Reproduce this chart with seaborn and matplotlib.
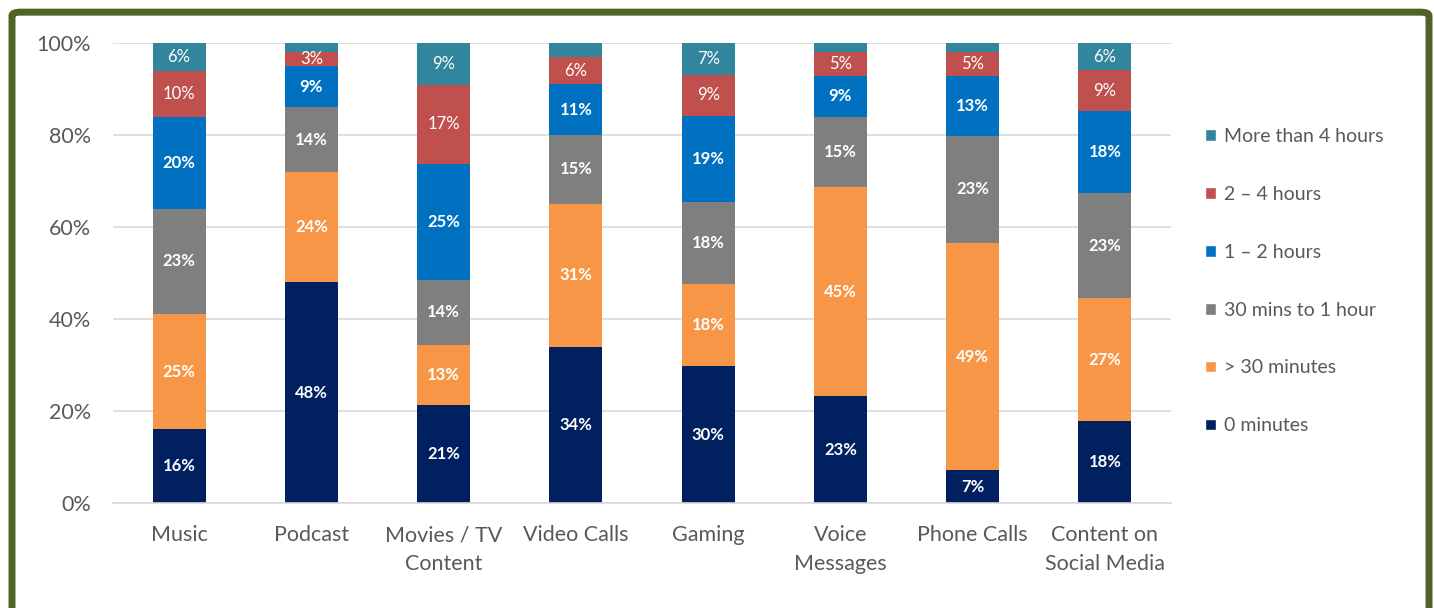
import numpy as np
import pandas as pd
import seaborn as sns
import matplotlib.pyplot as plt
from matplotlib.patches import Patch, FancyBboxPatch
from matplotlib.ticker import PercentFormatter

# Chart data (percent of respondents, bottom segment first)
categories = ['Music', 'Podcast', 'Movies / TV\nContent', 'Video Calls', 'Gaming',
              'Voice\nMessages', 'Phone Calls', 'Content on\nSocial Media']
series_names = ['0 minutes', '> 30 minutes', '30 mins to 1 hour',
                '1 – 2 hours', '2 – 4 hours', 'More than 4 hours']
zero_min = [16, 48, 21, 34, 30, 23, 7, 18]
under_30 = [25, 24, 13, 31, 18, 45, 49, 27]
half_to_1h = [23, 14, 14, 15, 18, 15, 23, 23]
one_to_2h = [20, 9, 25, 11, 19, 9, 13, 18]
two_to_4h = [10, 3, 17, 6, 9, 5, 5, 9]
over_4h = [6, 2, 9, 3, 7, 2, 2, 6]
y_ticks = [0, 20, 40, 60, 80, 100]

colors = ['#002060', '#F79646', '#7F7F7F', '#0070C0', '#C0504D', '#31859C']
bold_labels = [True, True, True, True, False, False]

df = pd.DataFrame(
    [zero_min, under_30, half_to_1h, one_to_2h, two_to_4h, over_4h],
    index=series_names, columns=categories,
).T
# 100% stacked, like the original spreadsheet chart
shares = df.div(df.sum(axis=1), axis=0) * 100
tops = shares.cumsum(axis=1)

sns.set_theme(style='white')
plt.rcParams['font.family'] = ['Lato', 'DejaVu Sans']

fig = plt.figure(figsize=(14.34, 6.08), dpi=100)
ax = fig.add_axes([0.0788, 0.1727, 0.7378, 0.7566])

# draw cumulative tops from the highest series down so the bars stack
for i in reversed(range(len(series_names))):
    name = series_names[i]
    plot_df = pd.DataFrame({'category': categories, 'value': tops[name].values})
    sns.barplot(data=plot_df, x='category', y='value', color=colors[i],
                width=0.4, saturation=1, ax=ax, linewidth=0, zorder=2)

# segment labels
for i, name in enumerate(series_names):
    raw = df[name].values
    mids = tops[name].values - shares[name].values / 2
    for j, v in enumerate(raw):
        if i == len(series_names) - 1 and v <= 3:
            continue
        ax.text(j, mids[j], f'{v}%', ha='center', va='center', color='white',
                fontsize=12, fontweight='bold' if bold_labels[i] else 'normal',
                zorder=5)

ax.set_ylim(0, 100)
ax.set_xlim(-0.5, len(categories) - 0.5)
ax.set_yticks(y_ticks)
ax.yaxis.set_major_formatter(PercentFormatter(decimals=0))
ax.yaxis.grid(True, color='#D9D9D9', linewidth=1.2, zorder=0)
ax.set_axisbelow(True)
for side in ['top', 'right', 'left']:
    ax.spines[side].set_visible(False)
ax.spines['bottom'].set_color('#D9D9D9')
ax.spines['bottom'].set_linewidth(1.2)
ax.tick_params(axis='both', length=0, labelsize=15.5, labelcolor='#595959')
ax.tick_params(axis='y', pad=16)
ax.tick_params(axis='x', pad=16)
for lbl in ax.get_xticklabels():
    lbl.set_linespacing(1.55)
ax.set_xlabel('')
ax.set_ylabel('')

handles = [Patch(facecolor=colors[i], label=series_names[i])
           for i in reversed(range(len(series_names)))]
leg = fig.legend(handles=handles, loc='upper left', bbox_to_anchor=(0.828, 0.818),
                 frameon=False, fontsize=14, handlelength=0.55, handleheight=0.55,
                 handletextpad=0.45, labelspacing=2.1)
for t in leg.get_texts():
    t.set_color('#595959')

# olive frame around the chart
frame = FancyBboxPatch((12 / 1434, -0.02), 1417 / 1434, 1.0,
                       boxstyle='round,pad=0,rounding_size=0.006',
                       transform=fig.transFigure, fill=False,
                       edgecolor='#4F6228', linewidth=5, zorder=10)
fig.patches.append(frame)

fig.savefig('out.png', dpi=100)
